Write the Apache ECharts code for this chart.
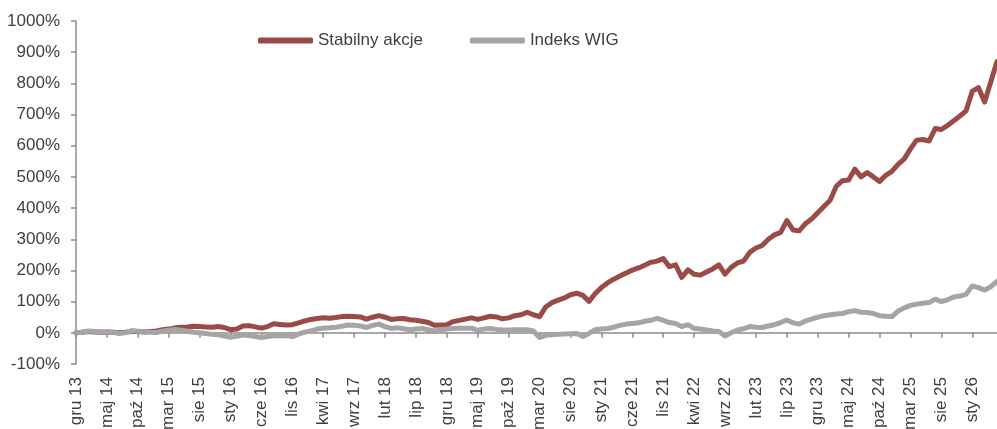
<!DOCTYPE html>
<html>
<head>
<meta charset="utf-8">
<script src="https://cdn.jsdelivr.net/npm/echarts@6/dist/echarts.min.js"></script>
<style>
html,body{margin:0;padding:0;background:#fff;}
#chart{width:997px;height:429px;}
</style>
</head>
<body>
<div id="chart"></div>
<script>
// Month names (Polish abbreviations) and the first month of the series
const monthNames = ['sty','lut','mar','kwi','maj','cze','lip','sie','wrz','paź','lis','gru'];
const startYear = 2013, startMonth = 11; // gru 13
const seriesNames = ['Stabilny akcje', 'Indeks WIG'];

// Cumulative return, % (monthly, from gru 13)
const stabilny = [
  0,2,4,3,2,3,2,0,2,5,
  4,3,4,6,10,12,16,18,19,21,
  20,19,18,20,17,10,12,22,23,19,
  15,20,29,27,25,26,32,38,43,46,
  48,47,49,52,53,52,51,44,50,55,
  50,43,45,46,42,40,37,33,24,25,
  26,36,40,44,48,43,48,53,51,45,
  48,55,58,66,58,52,83,97,105,112,
  122,127,120,101,126,145,160,172,182,192,
  201,208,217,226,230,238,212,218,178,202,
  188,185,195,205,218,188,210,224,230,258,
  272,280,300,314,322,360,330,327,350,365,
  385,405,425,470,488,490,525,500,514,500,
  485,505,518,540,558,590,618,620,615,655,
  652,665,680,695,712,775,786,740,805,870
];
const wig = [
  0,2,6,4,3,3,2,-2,0,7,
  5,3,2,1,5,8,11,8,5,2,
  0,-2,-5,-6,-10,-14,-11,-7,-9,-12,
  -15,-12,-9,-10,-9,-12,-4,2,6,12,
  15,16,18,21,25,24,22,17,24,28,
  20,14,16,13,10,12,14,10,6,9,
  12,14,15,15,15,8,12,14,11,9,
  9,10,10,10,6,-15,-8,-6,-5,-4,
  -3,-2,-12,-2,10,12,14,18,24,28,
  30,32,37,40,46,40,33,30,20,26,
  14,12,9,6,4,-10,0,9,13,20,
  18,17,22,26,33,41,32,28,38,44,
  50,55,58,60,62,68,71,66,65,62,
  55,53,52,70,80,88,92,95,97,108,
  100,106,115,118,124,150,145,137,148,165
];

const categories = [];
for (let i = 0; i < stabilny.length; i++) {
  const m = (startMonth + i) % 12;
  const y = startYear + Math.floor((startMonth + i) / 12);
  categories.push(monthNames[m] + ' ' + String(y % 100).padStart(2, '0'));
}

const FONT = 'Liberation Sans';
const TXT = '#404040';
const chart = echarts.init(document.getElementById('chart'), null, {renderer: 'canvas'});
chart.setOption({
  animation: false,
  backgroundColor: '#ffffff',
  textStyle: {fontFamily: FONT},
  legend: {
    left: 253, top: 27,
    itemWidth: 55, itemHeight: 6, itemGap: 47,
    icon: 'roundRect',
    textStyle: {fontFamily: FONT, fontSize: 17, color: TXT},
    data: seriesNames
  },
  grid: {left: 76, right: 0, top: 21, bottom: 65, containLabel: false, outerBoundsMode: 'none'},
  xAxis: {
    type: 'category',
    data: categories,
    boundaryGap: false,
    axisLine: {onZero: true, lineStyle: {color: '#8c8c8c', width: 1.5}},
    axisTick: {show: true, interval: 4, length: 5, lineStyle: {color: '#8c8c8c', width: 1.5}},
    axisLabel: {interval: 4, rotate: 90, margin: 13, fontFamily: FONT, fontSize: 17, color: TXT},
    splitLine: {show: false}
  },
  yAxis: {
    type: 'value',
    min: -100, max: 1000, interval: 100,
    axisLine: {show: true, lineStyle: {color: '#8c8c8c', width: 1.5}},
    axisTick: {show: true, length: 5, lineStyle: {color: '#8c8c8c', width: 1.5}},
    axisLabel: {formatter: function (v) { return v + '%'; }, margin: 16, fontFamily: FONT, fontSize: 17, color: TXT},
    splitLine: {show: false}
  },
  series: [
    {
      name: seriesNames[0], type: 'line', data: stabilny, showSymbol: false, symbol: 'none',
      lineStyle: {color: '#9a4b48', width: 5, cap: 'round', join: 'round'},
      itemStyle: {color: '#9a4b48'}, z: 3
    },
    {
      name: seriesNames[1], type: 'line', data: wig, showSymbol: false, symbol: 'none',
      lineStyle: {color: '#a5a5a5', width: 5, cap: 'round', join: 'round'},
      itemStyle: {color: '#a5a5a5'}, z: 4
    }
  ]
});
</script>
</body>
</html>
